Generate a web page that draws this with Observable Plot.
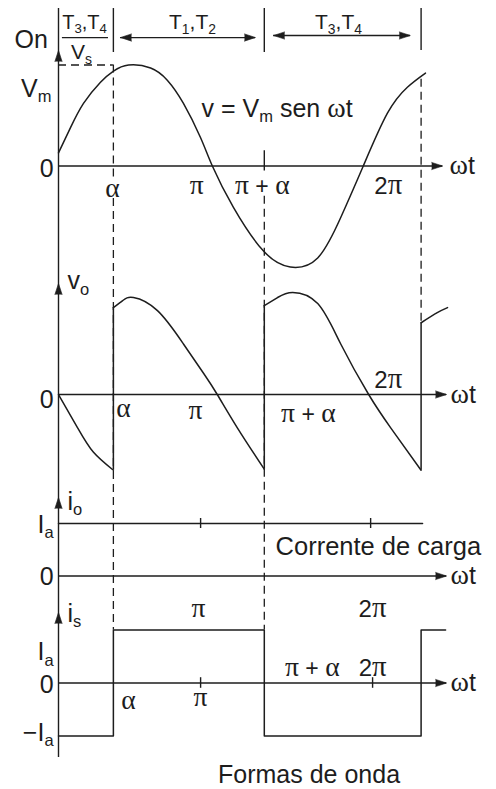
<!DOCTYPE html>
<html><head><meta charset="utf-8">
<script src="https://cdn.jsdelivr.net/npm/d3@7"></script>
<script src="https://cdn.jsdelivr.net/npm/@observablehq/plot@0.6"></script>
<style>
body{margin:0;background:#fff;}
#chart{width:496px;height:759px;}
#caption{font-family:"Liberation Sans",Arial,Helvetica,sans-serif;font-size:25px;line-height:30px;height:30px;padding-left:218px;color:#1d1d1d;}
</style></head><body>
<div id="chart"></div>
<div id="caption">Formas de onda</div>
<script>
// ---------- data (angles in rad, voltages in p.u. of Vm, currents in p.u. of Ia) ----------
const alpha = 1.12, piPlusAlpha = 4.2, twoPiPlusAlpha = 7.4;
const piTick = 2.9, twoPiTickIo = 6.37, twoPiTickIs = 6.41;

const vTheta = [0, 0.245, 0.51, 0.857, 1.122, 1.43, 1.88, 2.22, 2.55, 2.90, 3.14, 3.57, 4.18, 4.73, 5.29, 5.76, 6.22, 6.71, 7.12, 7.49];
const vValue = [0.13, 0.38, 0.62, 0.83, 0.94, 1.0, 0.97, 0.85, 0.62, 0.28, 0, -0.41, -0.84, -1.0, -0.91, -0.51, 0, 0.52, 0.78, 0.92];

const voTheta   = [0, 0.39, 0.71, 1.12,   1.12, 1.31, 1.53, 2.02, 2.55, 2.96, 3.24, 3.65, 4.2,   4.2, 4.47, 4.78, 5.29, 5.76, 6.33, 6.78, 7.4,   7.4, 7.73, 7.94];
const voValue   = [0, -0.33, -0.57, -0.75, 0.86, 0.93, 0.96, 0.83, 0.50, 0.21, 0, -0.33, -0.74, 0.88, 0.96, 1.01, 0.90, 0.50, 0, -0.33, -0.75, 0.71, 0.81, 0.86];
const voSegment = [1, 1, 1, 1,  2, 2, 2, 2, 2, 2, 2, 2, 2,  3, 3, 3, 3, 3, 3, 3, 3,  4, 4, 4];

const ioTheta = [0, 7.43];
const ioValue = [1, 1];

const isTheta = [0, alpha, alpha, piPlusAlpha, piPlusAlpha, twoPiPlusAlpha, twoPiPlusAlpha, 7.9];
const isValue = [-1, -1, 1, 1, -1, -1, 1, 1];

// ---------- layout ----------
const W = 496, H = 759, X0 = 58, KX = 49, U = 101;
const PANEL = {v: [165.5, 101], vo: [394, 101], io: [575.5, 52.5], is: [682.5, 53]};
const Y = (p, val) => -(PANEL[p][0] - val * PANEL[p][1]) / U;
const ink = "#1d1d1d";
const sans = '"Liberation Sans", Arial, Helvetica, sans-serif';

const vRows = vTheta.map((t, i) => ({x: t, y: Y("v", vValue[i])}));
const voRows = voTheta.map((t, i) => ({x: t, y: Y("vo", voValue[i]), seg: voSegment[i]}));
const ioRows = ioTheta.map((t, i) => ({x: t, y: Y("io", ioValue[i])}));
const isRows = isTheta.map((t, i) => ({x: t, y: Y("is", isValue[i])}));
const voJumps = [];
voRows.forEach((d, i) => { if (i > 0 && voRows[i - 1].x === d.x) voJumps.push({x: d.x, y1: voRows[i - 1].y, y2: d.y}); });

const axes = [
  {x2: 7.84, y: Y("v", 0)}, {x2: 7.92, y: Y("vo", 0)},
  {x2: 7.92, y: Y("io", 0)}, {x2: 7.92, y: Y("is", 0)}
];
const heads = [
  {x: 0, y: Y("v", 1.144), r: 0}, {x: 0, y: Y("vo", 1.099), r: 0},
  {x: 0, y: Y("io", 1.495), r: 0}, {x: 0, y: Y("is", 1.33), r: 0},
  ...axes.map(a => ({x: a.x2, y: a.y, r: 90})),
  {x: 4.02, y: Y("v", 1.272), r: 90}, {x: 1.265, y: Y("v", 1.272), r: -90},
  {x: 7.18, y: Y("v", 1.292), r: 90}, {x: 4.39, y: Y("v", 1.292), r: -90}
];
const dashV = [
  {x: alpha, y1: Y("v", 1.0), y2: Y("v", -0.114)},
  {x: alpha, y1: Y("v", -0.322), y2: Y("is", 1)},
  {x: piPlusAlpha, y1: Y("v", -0.30), y2: Y("is", 1)},
  {x: twoPiPlusAlpha, y1: Y("v", 0.86), y2: Y("vo", 0.71)}
];
const solidV = [
  {x: 0, y1: Y("v", 1.559), y2: Y("is", -1.406)},
  {x: alpha, y1: Y("v", 1.559), y2: Y("v", 1.124)},
  {x: piPlusAlpha, y1: Y("v", 1.559), y2: Y("v", 1.124)},
  {x: twoPiPlusAlpha, y1: Y("v", 1.559), y2: Y("v", 1.144)},
  {x: piPlusAlpha, y1: Y("v", 0.15), y2: Y("v", -0.05)},
  {x: piTick, y1: Y("io", 1.095), y2: Y("io", 0.905)},
  {x: twoPiTickIo, y1: Y("io", 1.095), y2: Y("io", 0.905)},
  {x: piTick, y1: Y("is", 0.1), y2: Y("is", -0.1)},
  {x: twoPiTickIs, y1: Y("is", 0.1), y2: Y("is", -0.1)}
];
const solidH = [
  {x1: 1.265, x2: 4.02, y: Y("v", 1.272)},
  {x1: 4.39, x2: 7.18, y: Y("v", 1.292)},
  {x1: 0.08, x2: 1.02, y: Y("v", 1.272)}
];

// labels: [text, theta, panel, value, size]
const labelsStart = [
  ["On", -0.898, "v", 1.243, 25],
  ["v = V_m sen ωt", 2.92, "v", 0.569, 25],
  ["ωt", 7.98, "v", 0, 25],
  ["v_o", 0.184, "vo", 1.119, 25],
  ["ωt", 8.0, "vo", 0, 25],
  ["i_o", 0.184, "io", 1.419, 25],
  ["Corrente de carga", 4.43, "io", 0.56, 25.5],
  ["ωt", 8.0, "io", 0, 25],
  ["i_s", 0.184, "is", 1.311, 25],
  ["ωt", 8.0, "is", 0, 25]
];
const labelsMiddle = [
  ["T_3,T_4", 0.531, "v", 1.421, 20],
  ["V_s", 0.469, "v", 1.124, 21],
  ["T_1,T_2", 2.735, "v", 1.421, 21],
  ["T_3,T_4", 5.714, "v", 1.421, 21],
  ["α", 1.10, "v", -0.233, 23],
  ["π", 2.82, "v", -0.203, 23],
  ["π + α", 4.16, "v", -0.203, 23],
  ["2π", 6.73, "v", -0.203, 24],
  ["α", 1.327, "vo", -0.149, 23],
  ["π", 2.796, "vo", -0.168, 23],
  ["π + α", 5.10, "vo", -0.198, 23],
  ["2π", 6.73, "vo", 0.139, 24],
  ["π", 2.857, "is", 1.387, 23],
  ["2π", 6.408, "is", 1.387, 24],
  ["α", 1.43, "is", -0.349, 23],
  ["π", 2.898, "is", -0.292, 23],
  ["π + α", 5.18, "is", 0.274, 23],
  ["2π", 6.41, "is", 0.274, 24]
];
const labelsEnd = [
  ["V_m", -0.143, "v", 0.767, 25],
  ["0", -0.10, "v", -0.025, 25],
  ["0", -0.10, "vo", -0.05, 25],
  ["I_a", -0.10, "io", 0.98, 25],
  ["0", -0.10, "io", -0.01, 25],
  ["I_a", -0.10, "is", 0.58, 25],
  ["0", -0.10, "is", -0.047, 25],
  ["−I_a", -0.10, "is", -0.94, 25]
];
const toRows = arr => arr.map(([text, x, p, v, s]) => ({text, x, y: Y(p, v), s}));

function arrowHeads(rows) {
  try {
    return Plot.vector(rows, {x: "x", y: "y", rotate: "r", length: 11, r: 3.6, shape: "spike", anchor: "end", fill: ink, stroke: ink, strokeWidth: 0.6});
  } catch (e) {
    return Plot.text(rows, {x: "x", y: "y", rotate: "r", text: () => "▲", fontSize: 11, fill: ink, lineAnchor: "top"});
  }
}

const chart = Plot.plot({
  width: W, height: H, margin: 0,
  x: {domain: [-X0 / KX, (W - X0) / KX], axis: null},
  y: {domain: [-H / U, 0], axis: null},
  style: {background: "white", color: ink},
  marks: [
    Plot.ruleY(axes, {x1: 0, x2: "x2", y: "y", stroke: ink, strokeWidth: 1.4}),
    Plot.ruleX(solidV, {x: "x", y1: "y1", y2: "y2", stroke: ink, strokeWidth: 1.4}),
    Plot.ruleY(solidH, {x1: "x1", x2: "x2", y: "y", stroke: ink, strokeWidth: 1.3}),
    Plot.ruleX(dashV, {x: "x", y1: "y1", y2: "y2", stroke: ink, strokeWidth: 1.3, strokeDasharray: "8,5"}),
    Plot.ruleY([Y("v", 1.0)], {x1: 0, x2: alpha, stroke: ink, strokeWidth: 1.3, strokeDasharray: "8,5"}),
    Plot.line(vRows, {x: "x", y: "y", curve: "natural", stroke: ink, strokeWidth: 1.5}),
    Plot.line(voRows, {x: "x", y: "y", z: "seg", curve: "natural", stroke: ink, strokeWidth: 1.5}),
    Plot.ruleX(voJumps, {x: "x", y1: "y1", y2: "y2", stroke: ink, strokeWidth: 1.5}),
    Plot.line(ioRows, {x: "x", y: "y", stroke: ink, strokeWidth: 1.5}),
    Plot.line(isRows, {x: "x", y: "y", curve: "linear", stroke: ink, strokeWidth: 1.5}),
    arrowHeads(heads),
    Plot.text(toRows(labelsStart), {x: "x", y: "y", text: "text", fontSize: "s", textAnchor: "start", fontFamily: sans, fill: ink}),
    Plot.text(toRows(labelsMiddle), {x: "x", y: "y", text: "text", fontSize: "s", textAnchor: "middle", fontFamily: sans, fill: ink}),
    Plot.text(toRows(labelsEnd), {x: "x", y: "y", text: "text", fontSize: "s", textAnchor: "end", fontFamily: sans, fill: ink})
  ]
});
document.getElementById("chart").appendChild(chart);

// subscripts ("_x") and serif Greek letters as real tspans
function richify(svg) {
  const NS = "http://www.w3.org/2000/svg";
  svg.querySelectorAll("text").forEach(t => {
    const s = t.textContent;
    if (!/[_απω]/.test(s)) return;
    const fs = parseFloat(t.getAttribute("font-size")) || parseFloat(getComputedStyle(t).fontSize) || 20;
    while (t.firstChild) t.removeChild(t.firstChild);
    const re = /_\{([^}]*)\}|_(.)|([απω])|([^_απω]+)/g;
    let m, shift = 0;
    while ((m = re.exec(s))) {
      const ts = document.createElementNS(NS, "tspan");
      if (m[1] !== undefined || m[2] !== undefined) {
        ts.textContent = m[1] ?? m[2];
        ts.setAttribute("font-size", (fs * 0.66).toFixed(1));
        const d = fs * 0.22;
        ts.setAttribute("dy", (d - shift).toFixed(1));
        shift = d;
      } else {
        ts.textContent = m[3] ?? m[4];
        if (shift) { ts.setAttribute("dy", (-shift).toFixed(1)); shift = 0; }
        if (m[3]) {
          ts.setAttribute("font-family", '"Liberation Serif","DejaVu Serif",serif');
          ts.setAttribute("font-size", (fs * (m[3] === "ω" ? 1.12 : 1.2)).toFixed(1));
        }
      }
      t.appendChild(ts);
    }
  });
}
richify(chart);
</script>
</body></html>
